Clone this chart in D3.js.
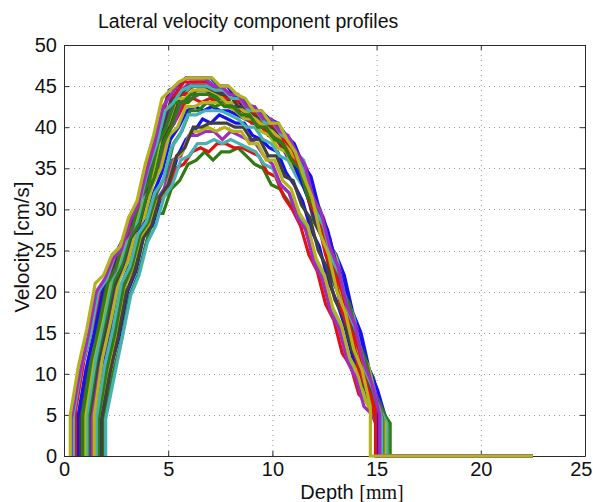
<!DOCTYPE html>
<html>
<head>
<meta charset="utf-8">
<script src="https://cdn.jsdelivr.net/npm/d3@7"></script>
<style>
  html, body { margin: 0; padding: 0; background: #fff; }
  svg { display: block; }
  text { font-family: "Liberation Sans", Arial, Helvetica, sans-serif; fill: #111; }
</style>
</head>
<body>
<svg id="chart" width="593" height="502"></svg>
<script>
// Depth at which each profile's first gate sits [mm]
const startDepth = [1.85, 1.95, 1.75, 2.0, 1.6, 1.7, 1.8, 1.5, 1.65, 1.4, 1.55, 1.3, 1.45, 1.2,
                    1.05, 1.15, 0.95, 1.1, 0.85, 1.0, 0.75, 0.65, 0.9, 0.55, 0.45, 0.35, 0.3];
// Gate spacing along depth [mm] and the depth where every trace ends
const gateStep = 0.4;
const tailDepth = 22.5;

// Lateral velocity per gate [cm/s], one array per profile
const velocityProfiles = [
  [4.5,11,14.5,20,22.5,27,28,31.5,33,36.5,38.5,39.5,41,40.5,41.5,41,40.5,40.5,39,38.5,37.5,37,34.5,33,31,27.5,25.5,21.5,19,16,12,10,6.5,5,3],
  [4.5,10,14,19.5,22,26,29.5,29.5,32.5,33.5,35.5,36,37,36,37,37,37.5,36.5,35.5,35,33,32.5,31,29.5,28,24.5,22.5,18.5,16.5,12.5,11,7.5,6,4.5,3],
  [5,11,15.5,21,23,26.5,28,31,32,35,35.5,37,37.5,37,38,38,37.5,37.5,37,36.5,34.5,34,31.5,30,28,24.5,22.5,18.5,16.5,12.5,11,7.5,6.5,4,3],
  [4.5,9.5,14.5,19.5,22,26,28,31.5,33,36,36.5,38,38,38.5,38,38.5,38,37.5,37,35.5,35,33,32,29.5,27.5,24,22,18,16,12,10.5,7,6,4,3],
  [4.5,10.5,14.5,20,22.5,26.5,28,31,32.5,36,36.5,39,39,39.5,39.5,38.5,39.5,39,38.5,38,36.5,35.5,33,32,29,27.5,23.5,21.5,17.5,15.5,11.5,9.5,6,5,3],
  [5,10.5,15,20.5,23,26.5,28,31,32.5,36,37,39.5,39.5,40,39.5,40,39.5,39.5,38,38,36,36,33.5,32.5,29.5,28,24,22,18,16,12,10,6.5,5,3],
  [4.5,10,14.5,20,22.5,26.5,28,31.5,33,36.5,37.5,40,40,40.5,40.5,40.5,40,40,38.5,38.5,36.5,36.5,34,33.5,30.5,29,25,23,19,17,13,11,7.5,6,3.5],
  [4.5,11,15.5,20.5,23,27,28.5,32,34.5,38.5,40,42,42.5,42,42.5,42,42,41.5,41,40.5,40,40,38.5,36.5,36,34,30,28,24,21.5,17,14.5,10,8,4.5],
  [4.5,10.5,15,20.5,23,27,28.5,32,34,38,39.5,42,42,43,42.5,43,42.5,42.5,41,41,39.5,39.5,37.5,37,35,34,30.5,28.5,24.5,22.5,18,16,11.5,9.5,5.5,4],
  [5,11.5,16,21.5,23.5,27.5,29,33,35.5,39.5,41,43,43.5,43,43.5,43,43,42,42,40.5,40.5,39,38.5,37,36,33.5,32,28,26,21.5,19,14.5,12,8,6,3.5],
  [4.5,11,15.5,21,23,27,28.5,32,33.5,37.5,39,41.5,41.5,42,42,42,41.5,41,40,40,38.5,38,36.5,36,34,32.5,29.5,27.5,23.5,21.5,17.5,15.5,11,9,5,3.5],
  [5,11.5,16,21,23.5,27,28.5,32.5,35,39,40.5,43.5,43.5,44,44,43.5,43.5,42.5,42.5,41.5,40.5,40,39.5,38,37,35,33,29.5,27.5,23.5,21,16.5,14,9.5,7.5,4.5],
  [5,12,16.5,21.5,23.5,27.5,29,33,35,39,40,42.5,42.5,43,43,43,42.5,42,41,41,39.5,39,37.5,37,35,34,30.5,28.5,24.5,22.5,18.5,16,11.5,9.5,5.5,4],
  [4.5,11,15.5,20.5,23,26.5,28,32,34.5,39,41,44,44,44.5,44.5,44,44,43,43,41.5,41.5,40,40,38,37,34.5,32.5,28.5,26.5,22,19.5,15,12.5,8.5,6.5,3.5],
  [5,11.5,16,21.5,23.5,27,28.5,32.5,35,39.5,41.5,44.5,44.5,45,45,45,44.5,43.5,43.5,42.5,42,41.5,40.5,39.5,37.5,35.5,33,30.5,28,26,24.5,22,17.5,15,10.5,8,4.5],
  [4.5,11.5,16,21,23,26.5,28,31.5,34,38,40,43,43,44,44,44,43.5,42.5,42.5,41.5,41,40.5,39,38.5,37,36,33.5,32,28,26,22,19.5,15,13,8.5,6.5,4],
  [5.5,12,16.5,21.5,23.5,27,28.5,32.5,34.5,39,41,44,44,45,45,45,44.5,43.5,43.5,42,42,40.5,40.5,39,38.5,36.5,35,31,29,24.5,22,17.5,15,10.5,8,4.5],
  [5,11.5,16.5,21.5,23.5,27,28.5,32.5,35,39.5,41.5,44.5,44.5,45.5,45.5,45.5,45,44,44,43,42.5,41.5,41,40,39,37,36,32,30,26,24,19.5,17,12.5,10,6,4],
  [4.5,11,15.5,21,22.5,26,27.5,31,33,37.5,40,44,44.5,45.5,45.5,45.5,45,44.5,44,43.5,42.5,42,41,40.5,39.5,38.5,36.5,35,31,29,25,22.5,18,15.5,11,8.5,5],
  [5,12,16.5,21.5,23.5,27,28.5,32,34,38.5,40.5,43.5,43.5,44.5,44.5,44.5,44,43,43,42,41.5,40.5,40,39,38.5,36.5,35.5,32.5,30.5,26.5,24.5,20,17.5,13,11,6.5,4],
  [5,11.5,15.5,21,22.5,26,27.5,31,32.5,37.5,40,43.5,44,45,45,45,44.5,44,44,42.5,42.5,41.5,41,40,39.5,38,37,34.5,32.5,28.5,26.5,22,19.5,15,12.5,8,5],
  [4.5,10.5,15,20.5,22.5,25.5,27,30.5,33,38,41,44.5,45,46,46,46,46,45,45,43.5,43.5,42,42,41,40.5,39,38,35.5,34,30,27.5,23.5,21,16.5,14,9.5,6.5],
  [5,11.5,16,21,23,26.5,28,31.5,33.5,38,40,43,43,44,44,44,43.5,42.5,42.5,41.5,41.5,40,40,38.5,38,36,35,31.5,30,26.5,24.5,20.5,18.5,14,11.5,7,4.5],
  [5.5,11.5,15.5,20.5,22,25,26.5,30,32,36.5,39.5,43.5,44,45.5,45.5,45.5,45.5,44.5,44.5,43.5,43,42,41.5,40.5,40,38.5,37.5,35,33,29,26.5,22.5,20,15.5,13,8.5,5.5],
  [5,11,14.5,20,21.5,24.5,26,29.5,31,35,38,42,43,44.5,45,45,45,44.5,44.5,43.5,43.5,42,42,40.5,40.5,39,38.5,36,34,30,28,24,22,17.5,15,10.5,8,4.5],
  [4.5,10,14.5,20,21.5,24,25,28.5,30.5,34.5,38,42.5,44,45.5,46,46,46,45,45,44,44,42.5,42.5,41,41,39.5,39,37,35.5,31.5,29.5,25.5,23,18.5,16,11.5,9,5],
  [5,11,15.5,21,22,24.5,25.5,29,31,35.5,39,43.5,44.5,45.5,46,46,46,46,45,45,44,43.5,42,42,40.5,40.5,38.5,37,34,31.5,27,24.5,20,17.5,13,10.5,6]
];

const xTicks = [0, 5, 10, 15, 20, 25];
const yTicks = [0, 5, 10, 15, 20, 25, 30, 35, 40, 45, 50];
const titleText = "Lateral velocity component profiles";
const yLabelText = "Velocity [cm/s]";

// Line colour cycle (classic MATLAB order)
const colorOrder = ["#1212f2", "#2f7a12", "#e01212", "#45b2b4", "#a02cc0", "#b3b31c", "#404040"];

const svg = d3.select("#chart");
const plotLeft = 64, plotRight = 585, plotTop = 45, plotBottom = 456;

const x = d3.scaleLinear().domain([0, 25]).range([plotLeft, plotRight]);
const y = d3.scaleLinear().domain([0, 50]).range([plotBottom, plotTop]);

// dotted grid
const grid = svg.append("g").attr("stroke", "#9a9a9a").attr("stroke-width", 1)
  .attr("stroke-dasharray", "1,4");
grid.selectAll("line.gx").data(xTicks.slice(1, -1)).join("line")
  .attr("x1", d => x(d) + 0.5).attr("x2", d => x(d) + 0.5)
  .attr("y1", plotTop).attr("y2", plotBottom);
grid.selectAll("line.gy").data(yTicks.slice(1, -1)).join("line")
  .attr("y1", d => Math.round(y(d)) + 0.5).attr("y2", d => Math.round(y(d)) + 0.5)
  .attr("x1", plotLeft).attr("x2", plotRight);

// axes with inward ticks on all four sides
const axisColor = "#2a2a2a";
function styleAxis(g) {
  g.selectAll("path.domain").attr("stroke", axisColor);
  g.selectAll(".tick line").attr("stroke", axisColor);
  g.selectAll(".tick text").style("font-size", "20px").attr("fill", "#111");
}
const xAxisG = svg.append("g").attr("transform", `translate(0,${plotBottom})`)
  .call(d3.axisBottom(x).tickValues(xTicks).tickSize(-5).tickSizeOuter(0).tickPadding(6))
  .call(styleAxis);
// keep the last tick label inside the canvas
xAxisG.selectAll(".tick text").filter(d => d === 25)
  .attr("text-anchor", "end").attr("x", 7);
svg.append("g").attr("transform", `translate(0,${plotTop})`)
  .call(d3.axisTop(x).tickValues(xTicks).tickSize(-5).tickSizeOuter(0).tickFormat(""))
  .call(styleAxis);
svg.append("g").attr("transform", `translate(${plotLeft},0)`)
  .call(d3.axisLeft(y).tickValues(yTicks).tickSize(-5).tickSizeOuter(0).tickPadding(7))
  .call(styleAxis);
svg.append("g").attr("transform", `translate(${plotRight},0)`)
  .call(d3.axisRight(y).tickValues(yTicks).tickSize(-5).tickSizeOuter(0).tickFormat(""))
  .call(styleAxis);

// velocity profiles: vertical rise at the first gate, linear between gates,
// vertical fall after the last gate, then a flat zero tail
const line = d3.line()
  .x(d => x(d[0]))
  .y(d => y(d[1]));

const traces = velocityProfiles.map((vals, i) => {
  const s = startDepth[i];
  const pts = [[s, 0]];
  vals.forEach((v, k) => pts.push([s + k * gateStep, v]));
  pts.push([s + (vals.length - 1) * gateStep, 0]);
  pts.push([tailDepth, 0]);
  return pts;
});

svg.append("g").selectAll("path").data(traces).join("path")
  .attr("d", line)
  .attr("fill", "none")
  .attr("stroke", (d, i) => colorOrder[i % colorOrder.length])
  .attr("stroke-width", 3.2)
  .attr("stroke-linejoin", "miter");

// title and axis labels
svg.append("text").attr("x", 98).attr("y", 28)
  .style("font-size", "19.5px").text(titleText);

const xl = svg.append("text").attr("x", 352).attr("y", 499)
  .attr("text-anchor", "middle").style("font-size", "20px");
xl.append("tspan").text("Depth ");
xl.append("tspan").style("font-family", "'Liberation Serif', 'Times New Roman', serif").text("[mm]");

svg.append("text").attr("transform", "translate(29,247) rotate(-90)")
  .attr("text-anchor", "middle").style("font-size", "20.5px").text(yLabelText);
</script>
</body>
</html>
